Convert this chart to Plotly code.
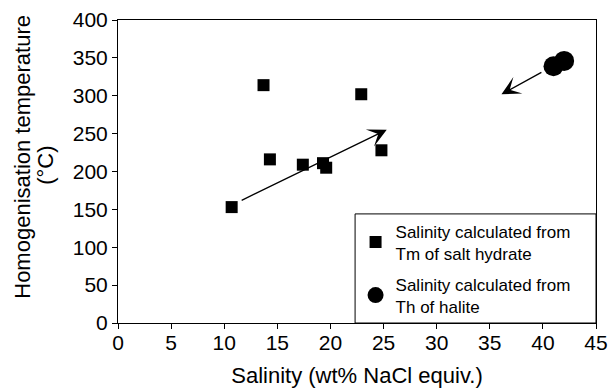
import plotly.graph_objects as go

# Data
hyd_salinity = [10.7, 13.7, 14.3, 17.4, 19.3, 19.6, 22.9, 24.8]
hyd_temp = [153, 314, 216, 209, 211, 205, 302, 228]
hal_salinity = [41.0, 42.0]
hal_temp = [339, 346]

# Trend arrows: [tail, head]
arrow1_x = [11.5, 25.3]
arrow1_y = [161, 255]
arrow2_x = [40.0, 36.1]
arrow2_y = [332, 302]

x_ticks = [0, 5, 10, 15, 20, 25, 30, 35, 40, 45]
y_ticks = [0, 50, 100, 150, 200, 250, 300, 350, 400]

FONT = "Liberation Sans, Arial, sans-serif"

fig = go.Figure()
fig.add_trace(go.Scatter(
    x=hyd_salinity, y=hyd_temp, mode="markers",
    name="Salinity calculated from<br>Tm of salt hydrate", legendgroup="a",
    marker=dict(symbol="square", size=12, color="black"),
))
fig.add_trace(go.Scatter(
    x=hal_salinity, y=hal_temp, mode="markers",
    name="Salinity calculated from<br>Th of halite", legendgroup="b",
    marker=dict(symbol="circle", size=20, color="black"),
))

for ax_, ay_ in [(arrow1_x, arrow1_y), (arrow2_x, arrow2_y)]:
    fig.add_annotation(
        x=ax_[1], y=ay_[1], ax=ax_[0], ay=ay_[0],
        xref="x", yref="y", axref="x", ayref="y",
        text="", showarrow=True, arrowhead=3, arrowsize=2.4,
        arrowwidth=1.3, arrowcolor="black",
    )

# y-axis title as two rotated lines
fig.add_annotation(
    text="Homogenisation temperature", textangle=-90,
    xref="paper", yref="paper", x=-0.2, y=0.55,
    xanchor="center", yanchor="middle", showarrow=False,
    font=dict(family=FONT, size=22, color="black"),
)
fig.add_annotation(
    text="(°C)", textangle=-90,
    xref="paper", yref="paper", x=-0.152, y=0.52,
    xanchor="center", yanchor="middle", showarrow=False,
    font=dict(family=FONT, size=22, color="black"),
)

# legend box
fig.add_shape(type="rect", xref="paper", yref="paper",
              x0=0.496, x1=1.0, y0=0.0, y1=0.36,
              line=dict(color="black", width=1), fillcolor="white", layer="below")

fig.update_layout(
    width=608, height=388,
    margin=dict(l=118, r=12, t=20, b=65),
    paper_bgcolor="white", plot_bgcolor="white",
    font=dict(family=FONT, color="black"),
    showlegend=True,
    legend=dict(x=0.497, y=0.362, xanchor="left", yanchor="top",
                bgcolor="rgba(0,0,0,0)", borderwidth=0,
                font=dict(family=FONT, size=17, color="black"),
                tracegroupgap=6, itemsizing="trace"),
    xaxis=dict(
        range=[0, 45], tickvals=x_ticks, ticktext=[str(v) for v in x_ticks],
        showgrid=False, zeroline=False, showline=True, linecolor="black",
        linewidth=1, mirror=True, ticks="outside", ticklen=5, tickcolor="black",
        tickfont=dict(family=FONT, size=21, color="black"), automargin=False,
        ticklabelstandoff=-4,
        title=dict(text="Salinity (wt% NaCl equiv.)",
                   font=dict(family=FONT, size=22, color="black"), standoff=14),
    ),
    yaxis=dict(
        range=[0, 400], tickvals=y_ticks, ticktext=[str(v) for v in y_ticks],
        showgrid=False, zeroline=False, showline=True, linecolor="black",
        linewidth=1, mirror=True, ticks="outside", ticklen=5, tickcolor="black",
        tickfont=dict(family=FONT, size=21, color="black"), automargin=False,
    ),
)

fig.write_html("out.html")
